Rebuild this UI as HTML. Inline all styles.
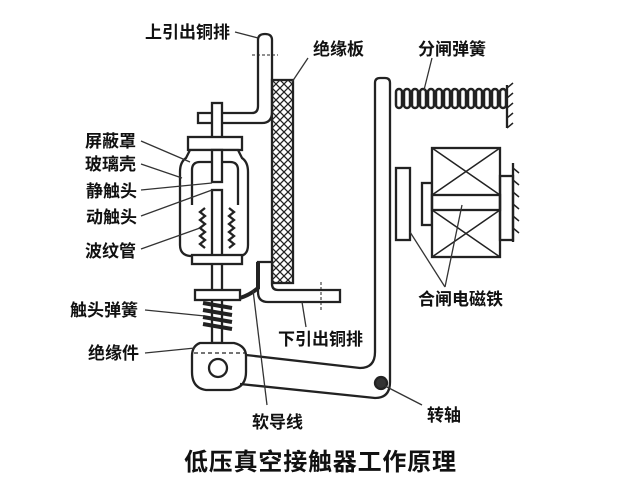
<!DOCTYPE html>
<html><head><meta charset="utf-8"><style>
body{margin:0;background:#fff}
svg text{font-family:"Liberation Sans","Noto Sans CJK SC",sans-serif;font-weight:bold;fill:#111}
</style></head><body>
<svg width="640" height="480" viewBox="0 0 640 480" xmlns="http://www.w3.org/2000/svg">
<defs>
<pattern id="hx" width="8" height="8" patternUnits="userSpaceOnUse">
<path d="M0 0L8 8M8 0L0 8" stroke="#222" stroke-width="1.3"/>
</pattern>
</defs>
<g fill="none" stroke="#222" stroke-width="2.3">
<path d="M258 40 Q258 34 265 34 Q272 34 272 40 L272 112 Q272 123 262 123 L198 123 L198 113 L252 113 Q258 113 258 106 Z" fill="#fff"/>
<line x1="252" y1="55" x2="278" y2="55" stroke-dasharray="3,2" stroke-width="1"/>
<rect x="272" y="80" width="21" height="203" fill="url(#hx)"/>
<path d="M258 262 L272 262 L272 284 Q272 290 278 290 L340 290 L340 302 L268 302 Q258 302 258 292 Z" fill="#fff"/>
<line x1="321" y1="282" x2="321" y2="312" stroke-dasharray="3,2" stroke-width="1"/>
<rect x="212" y="103" width="10" height="240" fill="#fff"/>
<rect x="188" y="137" width="54" height="13" fill="#fff"/>
<path d="M190 150 L186 158 Q180 162 180 172 L180 245 Q180 255 190 256 L240 256 Q248 255 248 245 L248 172 Q248 162 242 158 L238 150 Z" fill="#fff"/>
<path d="M192 205 L192 170 Q192 162 200 162 L230 162 Q238 162 238 170 L238 205"/>
<rect x="212" y="150" width="10" height="32" fill="#fff"/>
<rect x="212" y="190" width="10" height="66" fill="#fff"/>
<path d="M205 208 l-5 4 l5 4 l-5 4 l5 4 l-5 4 l5 4 l-5 4 l5 4 l-5 4 l5 4 M229 208 l5 4 l-5 4 l5 4 l-5 4 l5 4 l-5 4 l5 4 l-5 4 l5 4 l-5 4"/>
<rect x="192" y="255" width="50" height="9" fill="#fff"/>
<rect x="195" y="290" width="45" height="10" fill="#fff"/>
<path d="M203 303 L232 308 M203 310 L232 315 M203 317 L232 322 M203 324 L232 329" stroke-width="4"/>
<path d="M200 343 L234 343 Q246 346 246 356 L246 372 Q246 388 230 390 L206 390 Q192 388 192 372 L192 356 Q192 346 200 343 Z" fill="#fff"/>
<line x1="194" y1="353" x2="245" y2="353" stroke-dasharray="4,3" stroke-width="1.3"/>
<circle cx="218" cy="368" r="9"/>
<path d="M258 262 L258 288 Q250 295 240 298" stroke-width="4"/>
<path d="M246 355 L360 368 Q375 368 375 352 L375 83 Q375 78 380 78 L385 78 Q390 78 390 83 L390 382 Q390 398 375 398 L240 384"/>
<circle cx="381" cy="383" r="6" fill="#333"/>
<rect x="396" y="168" width="14" height="72" fill="#fff"/>
<rect x="422" y="183" width="10" height="42" fill="#fff"/>
<rect x="432" y="148" width="68" height="109" fill="#fff"/>
<rect x="432" y="195" width="68" height="15"/>
<path d="M432 148 L500 195 M500 148 L432 195 M432 210 L500 257 M500 210 L432 257" stroke-width="1.5"/>
<rect x="500" y="176" width="13" height="64"/>
<line x1="513" y1="163" x2="513" y2="242"/>
<path d="M513 168 l6 5 M513 180 l6 5 M513 192 l6 5 M513 204 l6 5 M513 216 l6 5 M513 228 l6 5" stroke-width="1.5"/>
<g stroke-width="2.5">
<rect x="396" y="89" width="6" height="19" rx="3"/><rect x="404" y="89" width="6" height="19" rx="3"/><rect x="412" y="89" width="6" height="19" rx="3"/><rect x="420" y="89" width="6" height="19" rx="3"/><rect x="428" y="89" width="6" height="19" rx="3"/><rect x="436" y="89" width="6" height="19" rx="3"/><rect x="444" y="89" width="6" height="19" rx="3"/><rect x="452" y="89" width="6" height="19" rx="3"/><rect x="460" y="89" width="6" height="19" rx="3"/><rect x="468" y="89" width="6" height="19" rx="3"/><rect x="476" y="89" width="6" height="19" rx="3"/><rect x="484" y="89" width="6" height="19" rx="3"/><rect x="492" y="89" width="6" height="19" rx="3"/><rect x="500" y="89" width="6" height="19" rx="3"/>
</g>
<line x1="507" y1="85" x2="507" y2="128"/>
<path d="M507 88 l6 -5 M507 98 l6 -5 M507 108 l6 -5 M507 118 l6 -5 M507 128 l6 -5" stroke-width="1.5"/>
</g>
<g stroke="#333" stroke-width="1.3" fill="none">
<line x1="235" y1="32" x2="258" y2="38"/>
<line x1="308" y1="58" x2="292" y2="82"/>
<line x1="432" y1="58" x2="424" y2="90"/>
<line x1="141" y1="141" x2="190" y2="162"/>
<line x1="141" y1="164" x2="182" y2="178"/>
<line x1="141" y1="190" x2="212" y2="183"/>
<line x1="141" y1="216" x2="212" y2="190"/>
<line x1="141" y1="249" x2="200" y2="228"/>
<line x1="145" y1="310" x2="205" y2="316"/>
<line x1="145" y1="353" x2="195" y2="348"/>
<line x1="306" y1="327" x2="302" y2="302"/>
<line x1="445" y1="287" x2="410" y2="232"/>
<line x1="445" y1="287" x2="462" y2="205"/>
<line x1="267" y1="405" x2="253" y2="290"/>
<line x1="422" y1="405" x2="385" y2="386"/>
</g>
<g font-size="17">
<text x="145" y="38">上引出铜排</text>
<text x="313" y="55">绝缘板</text>
<text x="418" y="55">分闸弹簧</text>
<text x="85" y="147">屏蔽罩</text>
<text x="85" y="170">玻璃壳</text>
<text x="86" y="197">静触头</text>
<text x="86" y="223">动触头</text>
<text x="85" y="257">波纹管</text>
<text x="70" y="316">触头弹簧</text>
<text x="88" y="359">绝缘件</text>
<text x="278" y="345">下引出铜排</text>
<text x="418" y="305">合闸电磁铁</text>
<text x="252" y="428">软导线</text>
<text x="427" y="421">转轴</text>
</g>
<text x="184" y="470" font-size="24" textLength="272">低压真空接触器工作原理</text>
</svg>
</body></html>
